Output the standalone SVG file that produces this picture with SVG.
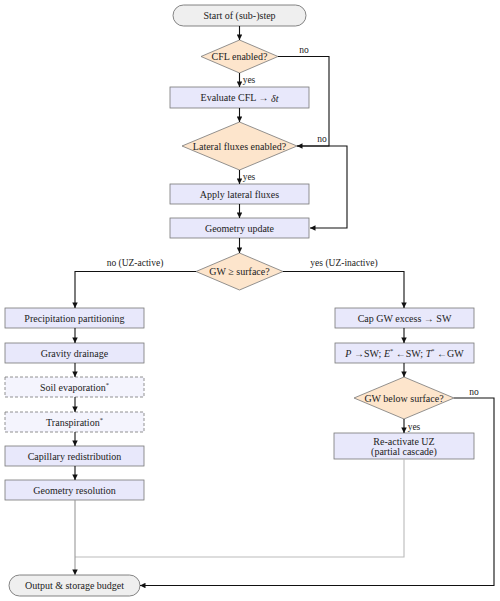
<svg xmlns="http://www.w3.org/2000/svg" width="500" height="601" viewBox="0 0 500 601" font-family="'Liberation Serif', 'DejaVu Serif', serif">
<style>
text{font-family:'Liberation Serif','DejaVu Serif',serif;font-size:10px;fill:#222;text-anchor:middle;dominant-baseline:central}
.lbl{font-size:9.5px}
.term{fill:#efefef;stroke:#666;stroke-width:0.8}
.proc{fill:#e8e8fb;stroke:#777;stroke-width:0.8}
.opt{fill:#f4f4fd;stroke:#777;stroke-width:0.8;stroke-dasharray:3,2}
.dec{fill:#fde5cc;stroke:#777;stroke-width:0.8}
.c{fill:none;stroke:#111;stroke-width:1.1}
.g1{fill:none;stroke:#999;stroke-width:1.1}
.g2{fill:none;stroke:#bbb;stroke-width:1.1}
</style>
<defs>
<marker id="ah" viewBox="0 0 10 10" refX="10" refY="5" markerWidth="6" markerHeight="5.5" markerUnits="userSpaceOnUse" orient="auto">
<path d="M0,0 L10,5 L0,10 z" fill="#111"/>
</marker>
</defs>
<g id="start"><rect class="term" x="173" y="5" width="133" height="21" rx="10.5"/><text x="239.5" y="15.5">Start of (sub-)step</text></g>
<g id="cfl"><polygon class="dec" points="239.5,40 278,56.5 239.5,73 201,56.5"/><text x="239.5" y="56.5">CFL enabled?</text></g>
<g id="evalcfl"><rect class="proc" x="170" y="87" width="139" height="21"/><text x="239.5" y="97.5">Evaluate CFL → <tspan font-style="italic">δt</tspan></text></g>
<g id="lateral"><polygon class="dec" points="239.5,122 297,146 239.5,170 182,146"/><text x="239.5" y="146">Lateral fluxes enabled?</text></g>
<g id="applylat"><rect class="proc" x="170" y="184" width="139" height="20"/><text x="239.5" y="194">Apply lateral fluxes</text></g>
<g id="geomupd"><rect class="proc" x="170" y="218" width="139" height="20"/><text x="239.5" y="228">Geometry update</text></g>
<g id="gwsurf"><polygon class="dec" points="239.5,253 283,271.5 239.5,290 196,271.5"/><text x="239.5" y="271.5">GW ≥ surface?</text></g>
<g id="precip"><rect class="proc" x="5" y="308" width="139" height="20"/><text x="74.5" y="318">Precipitation partitioning</text></g>
<g id="gravity"><rect class="proc" x="5" y="343" width="139" height="20"/><text x="74.5" y="353">Gravity drainage</text></g>
<g id="soilevap"><rect class="opt" x="5" y="377" width="139" height="20"/><text x="74.5" y="387">Soil evaporation<tspan font-size="6.5" dy="-3">*</tspan></text></g>
<g id="transp"><rect class="opt" x="5" y="412" width="139" height="20"/><text x="74.5" y="422">Transpiration<tspan font-size="6.5" dy="-3">*</tspan></text></g>
<g id="capillary"><rect class="proc" x="5" y="446" width="139" height="20"/><text x="74.5" y="456">Capillary redistribution</text></g>
<g id="georesol"><rect class="proc" x="5" y="480" width="139" height="20"/><text x="74.5" y="490">Geometry resolution</text></g>
<g id="capgw"><rect class="proc" x="335" y="308" width="139" height="20"/><text x="404.5" y="318">Cap GW excess → SW</text></g>
<g id="pswet"><rect class="proc" x="335" y="343" width="139" height="20"/><text x="404.5" y="353"><tspan font-style="italic">P</tspan> →SW; <tspan font-style="italic">E</tspan><tspan font-size="6.5" dy="-3">*</tspan><tspan dy="3"> ←SW; </tspan><tspan font-style="italic">T</tspan><tspan font-size="6.5" dy="-3">*</tspan><tspan dy="3"> ←GW</tspan></text></g>
<g id="gwbelow"><polygon class="dec" points="404,377 454,398 404,419 354,398"/><text x="404" y="398">GW below surface?</text></g>
<g id="reactivate"><rect class="proc" x="334" y="433" width="140" height="26"/><text x="404" y="441">Re-activate UZ</text><text x="404" y="451.5">(partial cascade)</text></g>
<g id="output"><rect class="term" x="9" y="575" width="131" height="21" rx="10.5"/><text x="74.5" y="585.5">Output &amp; storage budget</text></g>
<g id="connectors">
<line class="c" x1="239.5" y1="26" x2="239.5" y2="40" marker-end="url(#ah)"/>
<line class="c" x1="239.5" y1="73" x2="239.5" y2="87" marker-end="url(#ah)"/>
<text class="lbl" x="249" y="80">yes</text>
<line class="c" x1="239.5" y1="108" x2="239.5" y2="122" marker-end="url(#ah)"/>
<line class="c" x1="239.5" y1="170" x2="239.5" y2="184" marker-end="url(#ah)"/>
<text class="lbl" x="249" y="177">yes</text>
<line class="c" x1="239.5" y1="204" x2="239.5" y2="218" marker-end="url(#ah)"/>
<line class="c" x1="239.5" y1="238" x2="239.5" y2="253" marker-end="url(#ah)"/>
<polyline class="c" points="278,56.5 329,56.5 329,146 297,146" marker-end="url(#ah)"/>
<text class="lbl" x="304" y="50">no</text>
<polyline class="c" points="297,146 347,146 347,228 310,228" marker-end="url(#ah)"/>
<text class="lbl" x="322" y="139">no</text>
<polyline class="c" points="196,271.5 75,271.5 75,308" marker-end="url(#ah)"/>
<text class="lbl" x="135" y="263">no (UZ-active)</text>
<polyline class="c" points="283,271.5 404,271.5 404,308" marker-end="url(#ah)"/>
<text class="lbl" x="344" y="263">yes (UZ-inactive)</text>
<line class="c" x1="75" y1="328" x2="75" y2="343" marker-end="url(#ah)"/>
<line class="c" x1="75" y1="363" x2="75" y2="377" marker-end="url(#ah)"/>
<line class="c" x1="75" y1="397" x2="75" y2="412" marker-end="url(#ah)"/>
<line class="c" x1="75" y1="432" x2="75" y2="446" marker-end="url(#ah)"/>
<line class="c" x1="75" y1="466" x2="75" y2="480" marker-end="url(#ah)"/>
<line class="c" x1="404" y1="328" x2="404" y2="343" marker-end="url(#ah)"/>
<line class="c" x1="404" y1="363" x2="404" y2="377" marker-end="url(#ah)"/>
<line class="c" x1="404" y1="419" x2="404" y2="433" marker-end="url(#ah)"/>
<text class="lbl" x="414" y="427">yes</text>
<polyline class="c" points="454,398 494,398 494,585.5 140,585.5" marker-end="url(#ah)"/>
<text class="lbl" x="474" y="392">no</text>
<polyline class="g2" points="404,459 404,557 75,557"/>
<line class="g1" x1="75" y1="500" x2="75" y2="575" marker-end="url(#ah)"/>
</g>
</svg>
